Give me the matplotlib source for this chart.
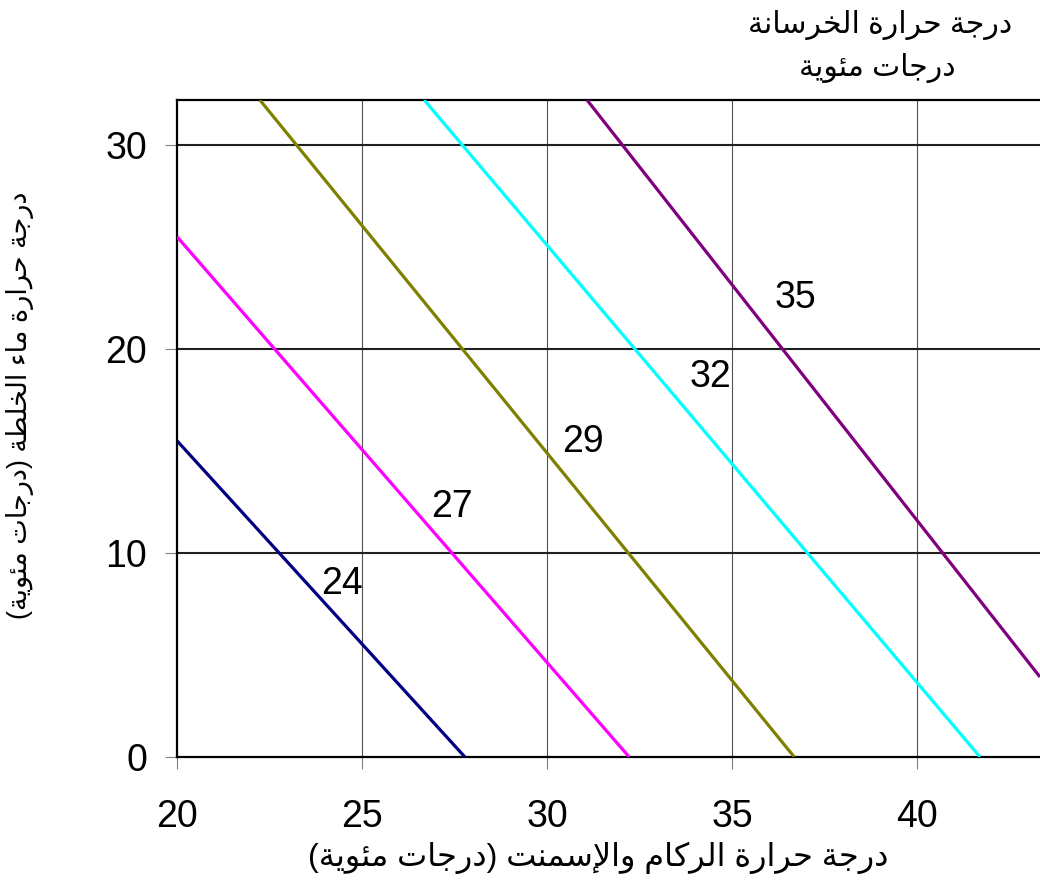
import matplotlib
matplotlib.use("Agg")
import matplotlib.pyplot as plt

# concrete temperature lines: two end points of each line (x, y)
line_names = ["24", "27", "29", "32", "35"]
line_x0 = [20.0, 20.0, 22.24, 26.68, 31.08]
line_y0 = [15.5, 25.5, 32.2, 32.2, 32.2]
line_x1 = [27.78, 32.22, 36.68, 41.70, 43.32]
line_y1 = [0.0, 0.0, 0.0, 0.0, 3.92]
line_colors = ["#000080", "#ff00ff", "#808000", "#00ffff", "#800080"]

# where the numbers sit
label_x = [24.46, 27.43, 30.97, 34.41, 36.70]
label_y = [8.48, 12.25, 15.44, 18.63, 22.5]

x_ticks = [20, 25, 30, 35, 40]
y_ticks = [0, 10, 20, 30]

title_1 = "درجة حرارة الخرسانة"
title_2 = "درجات مئوية"
x_title = "درجة حرارة الركام والإسمنت (درجات مئوية)"
y_title = "درجة حرارة ماء الخلطة (درجات مئوية)"

# arabic letters -> (isolated, final, initial, medial); None = does not join to the left
forms = {
    "ء": ("\ufe80", None, None, None),
    "إ": ("\ufe87", "\ufe88", None, None),
    "ئ": ("\ufe89", "\ufe8a", "\ufe8b", "\ufe8c"),
    "ا": ("\ufe8d", "\ufe8e", None, None),
    "ة": ("\ufe93", "\ufe94", None, None),
    "ت": ("\ufe95", "\ufe96", "\ufe97", "\ufe98"),
    "ج": ("\ufe9d", "\ufe9e", "\ufe9f", "\ufea0"),
    "ح": ("\ufea1", "\ufea2", "\ufea3", "\ufea4"),
    "خ": ("\ufea5", "\ufea6", "\ufea7", "\ufea8"),
    "د": ("\ufea9", "\ufeaa", None, None),
    "ر": ("\ufead", "\ufeae", None, None),
    "س": ("\ufeb1", "\ufeb2", "\ufeb3", "\ufeb4"),
    "ط": ("\ufec1", "\ufec2", "\ufec3", "\ufec4"),
    "ك": ("\ufed9", "\ufeda", "\ufedb", "\ufedc"),
    "ل": ("\ufedd", "\ufede", "\ufedf", "\ufee0"),
    "م": ("\ufee1", "\ufee2", "\ufee3", "\ufee4"),
    "ن": ("\ufee5", "\ufee6", "\ufee7", "\ufee8"),
    "و": ("\ufeed", "\ufeee", None, None),
    "ي": ("\ufef1", "\ufef2", "\ufef3", "\ufef4"),
}
lam_alef = {"ا": ("\ufefb", "\ufefc"), "إ": ("\ufef9", "\ufefa")}
mirror = {"(": ")", ")": "("}


def joins_left(c):
    return c in forms and forms[c][2] is not None


def shape(text):
    # very small arabic shaper: pick contextual forms, then reverse for display
    chars = list(text)
    out = []
    i = 0
    while i < len(chars):
        c = chars[i]
        prev = chars[i - 1] if i > 0 else ""
        nxt = chars[i + 1] if i + 1 < len(chars) else ""
        if c not in forms:
            out.append(mirror.get(c, c))
            i += 1
            continue
        from_right = joins_left(prev)
        if c == "ل" and nxt in lam_alef:
            out.append(lam_alef[nxt][1 if from_right else 0])
            i += 2
            continue
        to_left = joins_left(c) and nxt in forms
        iso, fin, ini, med = forms[c]
        if from_right and to_left:
            g = med
        elif from_right:
            g = fin
        elif to_left:
            g = ini
        else:
            g = iso
        out.append(g)
        i += 1
    return "".join(reversed(out))


plt.rcParams["font.family"] = ["Liberation Sans", "DejaVu Sans"]

fig = plt.figure(figsize=(10.4, 8.82), dpi=100)
ax = fig.add_axes([177 / 1040, 1 - 757 / 882, 1 - 177 / 1040, 657 / 882])

for x0, y0, x1, y1, c in zip(line_x0, line_y0, line_x1, line_y1, line_colors):
    ax.plot([x0, x1], [y0, y1], color=c, lw=2.3, solid_capstyle="butt", zorder=3)

for name, lx, ly in zip(line_names, label_x, label_y):
    ax.text(lx, ly, name, fontsize=27, ha="center", va="center", zorder=4)

ax.set_xlim(20, 43.32)
ax.set_ylim(0, 32.2)
ax.set_xticks(x_ticks)
ax.set_yticks(y_ticks)
ax.tick_params(axis="both", labelsize=27, length=8.5, width=0.8, color="#808080")
ax.tick_params(axis="x", pad=22)
ax.tick_params(axis="y", pad=13)

for x in x_ticks[1:]:
    ax.axvline(x, color="#505050", lw=0.8, zorder=1)
for y in y_ticks[1:]:
    ax.axhline(y, color="#202020", lw=1.5, zorder=1)

ax.spines["right"].set_visible(False)
for s in ["top", "left", "bottom"]:
    ax.spines[s].set_linewidth(1.6)
    ax.spines[s].set_color("black")

fig.text(880 / 1040, 1 - 25 / 882, shape(title_1), fontsize=21.5, ha="center", va="center")
fig.text(877 / 1040, 1 - 68 / 882, shape(title_2), fontsize=21.5, ha="center", va="center")
fig.text(598 / 1040, 1 - 858 / 882, shape(x_title), fontsize=23, ha="center", va="center")
fig.text(20 / 1040, 1 - 405 / 882, shape(y_title), fontsize=19.5, ha="center", va="center",
         rotation=90)

fig.savefig("out.png", dpi=100)
